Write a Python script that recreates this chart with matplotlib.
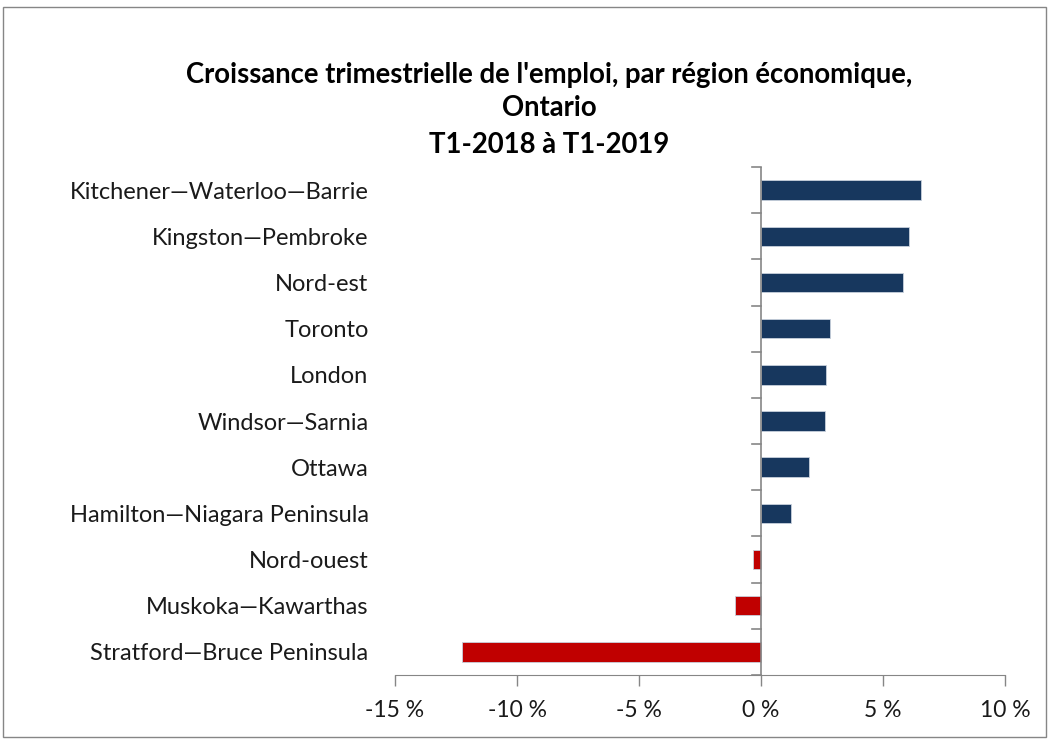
import matplotlib
matplotlib.use('Agg')
import matplotlib.pyplot as plt
from matplotlib.patches import Rectangle
from matplotlib.ticker import FuncFormatter

regions = ['Kitchener\u2014Waterloo\u2014Barrie', 'Kingston\u2014Pembroke', 'Nord-est',
           'Toronto', 'London', 'Windsor\u2014Sarnia', 'Ottawa',
           'Hamilton\u2014Niagara Peninsula', 'Nord-ouest', 'Muskoka\u2014Kawarthas',
           'Stratford\u2014Bruce Peninsula']
growth = [6.54, 6.08, 5.82, 2.81, 2.66, 2.61, 1.98, 1.24, -0.33, -1.05, -12.26]
xticks = [-15, -10, -5, 0, 5, 10]

navy = '#17375E'
red = '#C00000'
grey = '#868686'

plt.rcParams['font.family'] = ['Lato', 'DejaVu Sans']

fig = plt.figure(figsize=(10.49, 7.41), dpi=100)
ax = fig.add_axes([395/1049, 1 - 675/741, 610/1049, (675 - 167)/741])

pos = list(range(len(regions)))
colors = [navy if g >= 0 else red for g in growth]
ax.barh(pos, growth, height=0.42, color=colors, edgecolor='#c8d0dc', linewidth=0.6)
ax.set_ylim(len(regions) - 0.5, -0.5)
ax.set_xlim(-15, 10)

ax.set_xticks(xticks)
ax.xaxis.set_major_formatter(FuncFormatter(lambda v, p: '%d %%' % v))
ax.set_yticks(pos)
ax.set_yticklabels(regions)
ax.tick_params(axis='y', length=0, pad=19, labelsize=17, colors='#1a1a1a')
ax.tick_params(axis='x', length=8, width=1, color=grey, labelsize=16.5, pad=10, labelcolor='#1a1a1a')

# zero line with category separator ticks
for s in ['top', 'right', 'left']:
    ax.spines[s].set_visible(False)
ax.spines['bottom'].set_color(grey)
ax.axvline(0, color=grey, lw=1.2, zorder=3)
for i in range(len(regions) + 1):
    y = i - 0.5
    ax.plot([-0.35, 0], [y, y], color=grey, lw=1.2, clip_on=False, zorder=3)

tx = 549/1049
fig.text(tx, 1 - 75/741, "Croissance trimestrielle de l'emploi, par région économique,",
         ha='center', va='center', fontsize=19.8, fontweight='bold')
fig.text(tx, 1 - 108/741, 'Ontario', ha='center', va='center', fontsize=19.8, fontweight='bold')
fig.text(tx, 1 - 145/741, 'T1-2018 à T1-2019', ha='center', va='center', fontsize=19.8, fontweight='bold')

fig.patches.append(Rectangle((3/1049, 4/741), 1043/1049, 730/741, transform=fig.transFigure,
                             fill=False, edgecolor=grey, lw=1))

fig.savefig('out.png', dpi=100)
